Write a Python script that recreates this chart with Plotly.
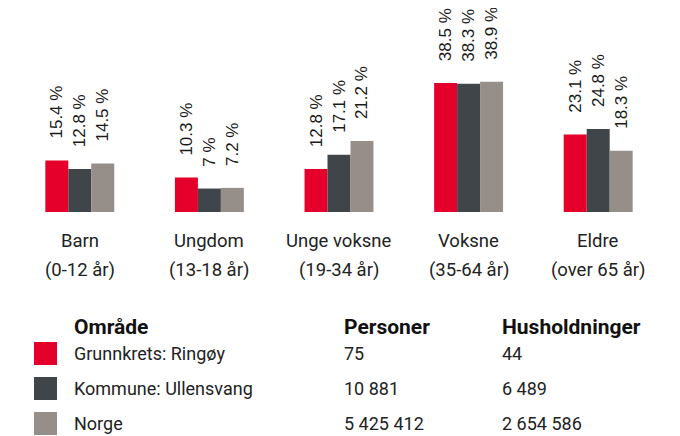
import plotly.graph_objects as go

categories = ["Barn", "Ungdom", "Unge voksne", "Voksne", "Eldre"]
subtitles = ["(0-12 år)", "(13-18 år)", "(19-34 år)", "(35-64 år)", "(over 65 år)"]
series_names = ["Grunnkrets: Ringøy", "Kommune: Ullensvang", "Norge"]
grunnkrets = [15.4, 10.3, 12.8, 38.5, 23.1]
kommune = [12.8, 7, 17.1, 38.3, 24.8]
norge = [14.5, 7.2, 21.2, 38.9, 18.3]
personer = ["75", "10 881", "5 425 412"]
husholdninger = ["44", "6 489", "2 654 586"]
colors = ["#E4002B", "#404549", "#968F89"]

TXT = "#222222"
OFF = 8  # browser body margin
W, H = 680 - OFF, 436 - OFF
PAD = "\u00a0" * 4

fig = go.Figure()
for name, vals, col in zip(series_names, [grunnkrets, kommune, norge], colors):
    fig.add_trace(go.Bar(
        x=categories, y=vals, name=name, marker_color=col,
        marker_line_width=0,
        text=[f"{PAD}{v:g} %" for v in vals], textposition="outside",
        textangle=-90, cliponaxis=False, constraintext="none",
        textfont=dict(family="Liberation Sans", size=17, color="#1a1a1a"),
        showlegend=False,
    ))

ml, mr, mt = 15 - OFF, 17, 0
base = 212 - OFF
mb = H - base
fig.update_layout(
    width=W, height=H, barmode="group", bargap=0.468, bargroupgap=0,
    margin=dict(l=ml, r=mr, t=mt, b=mb),
    plot_bgcolor="white", paper_bgcolor="white",
    font=dict(family="Roboto", color=TXT),
)
fig.update_xaxes(showticklabels=False, showgrid=False, zeroline=False, showline=False)
fig.update_yaxes(range=[0, (base - mt) / 3.35], visible=False)

ph = H - mt - mb  # plot height in px

def ypaper(py):
    return (H - mb - (py - OFF)) / ph

def xpaper(px):
    return (px - OFF - ml) / (W - ml - mr)

annotations = []
for c, s in zip(categories, subtitles):
    annotations.append(dict(x=c, xref="x", y=ypaper(241), yref="paper", text=c,
                            showarrow=False, font=dict(size=18.5, color=TXT),
                            xanchor="center", yanchor="middle"))
    annotations.append(dict(x=c, xref="x", y=ypaper(270), yref="paper", text=s,
                            showarrow=False, font=dict(size=18.5, color=TXT),
                            xanchor="center", yanchor="middle"))

# table legend
headers = [("Område", 72), ("Personer", 342), ("Husholdninger", 500)]
for t, px in headers:
    annotations.append(dict(x=xpaper(px), xref="paper", y=ypaper(327), yref="paper",
                            text=f"<b>{t}</b>", showarrow=False,
                            font=dict(size=21, color="#111111"),
                            xanchor="left", yanchor="middle"))
row_y = [353, 388, 423]
shapes = []
for i, (name, p, h, col) in enumerate(zip(series_names, personer, husholdninger, colors)):
    yy = row_y[i]
    for t, px, fs in [(name, 72, 18), (p, 342, 18), (h, 500, 18)]:
        annotations.append(dict(x=xpaper(px), xref="paper", y=ypaper(yy), yref="paper",
                                text=t, showarrow=False,
                                font=dict(size=fs, color=TXT),
                                xanchor="left", yanchor="middle"))
    shapes.append(dict(type="rect", xref="paper", yref="paper",
                       x0=xpaper(34), x1=xpaper(57),
                       y0=ypaper(yy + 12), y1=ypaper(yy - 11),
                       fillcolor=col, line=dict(width=0)))

fig.update_layout(annotations=annotations, shapes=shapes)
fig.write_html("out.html")
